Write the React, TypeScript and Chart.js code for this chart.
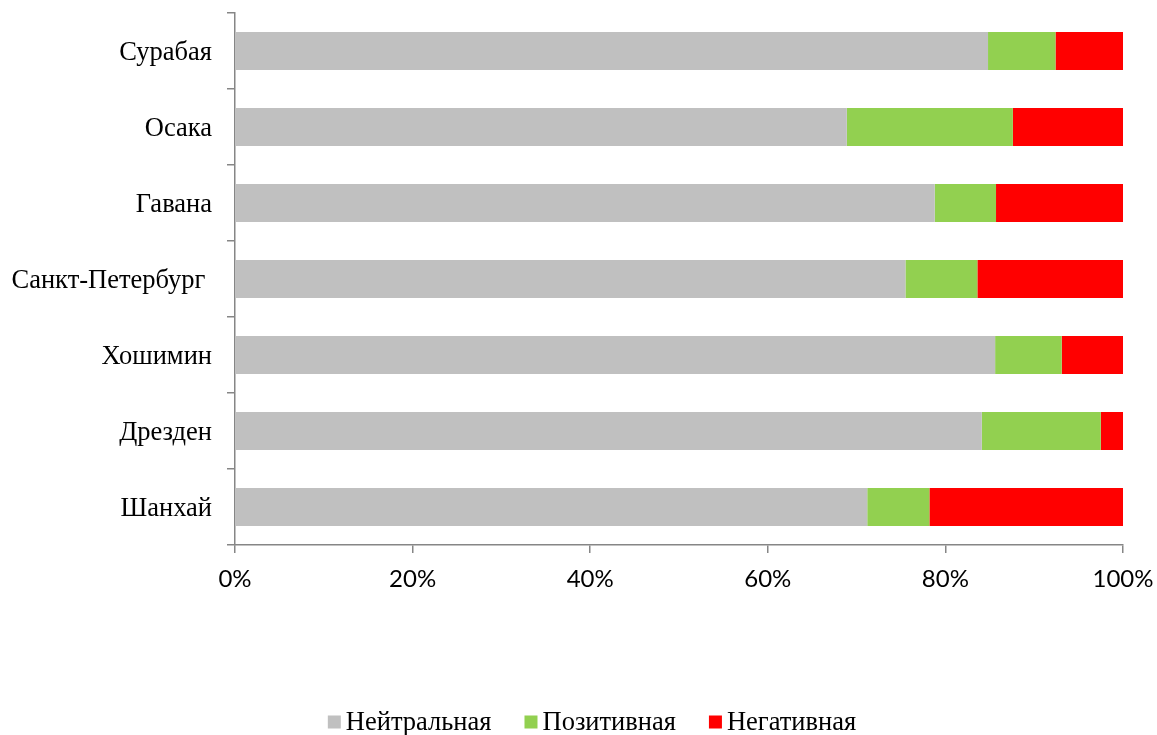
import React, { useEffect, useRef } from "react";
import { Chart, registerables } from "chart.js";

Chart.register(...registerables);

const categories = ["Сурабая", "Осака", "Гавана", "Санкт-Петербург ", "Хошимин", "Дрезден", "Шанхай"];
const seriesNames = ["Нейтральная", "Позитивная", "Негативная"];
const neutral = [84.8, 68.9, 78.8, 75.5, 85.6, 84.1, 71.2];
const positive = [7.6, 18.7, 6.9, 8.1, 7.5, 13.4, 7.0];
const negative = [7.6, 12.4, 14.3, 16.4, 6.9, 2.5, 21.8];
const xTicks = [0, 20, 40, 60, 80, 100];
const colors = ["#C0C0C0", "#92D050", "#FF0000"];

const AXIS = "#868686";
const SERIF = "'Liberation Serif', 'Times New Roman', serif";

const legendPlugin = {
  id: "customLegend",
  afterDraw(chart: any) {
    const ctx = chart.ctx;
    const ds = chart.data.datasets;
    ctx.save();
    ctx.font = `26.5px ${SERIF}`;
    ctx.textBaseline = "middle";
    ctx.textAlign = "left";
    const box = 13;
    const gap = 5;
    const spacing = 33;
    const widths = ds.map((d: any) => box + gap + ctx.measureText(d.label).width);
    const total = widths.reduce((a: number, b: number) => a + b, 0) + spacing * (ds.length - 1);
    let x = 592 - total / 2;
    const y = 722;
    ds.forEach((d: any, i: number) => {
      ctx.fillStyle = d.backgroundColor;
      ctx.fillRect(x, y - box / 2, box, box);
      ctx.fillStyle = "#000";
      ctx.fillText(d.label, x + box + gap, y + 1);
      x += widths[i] + spacing;
    });
    ctx.restore();
  },
};

export default function App() {
  const ref = useRef<HTMLCanvasElement>(null);
  useEffect(() => {
    if (!ref.current) return;
    const data = [neutral, positive, negative];
    const chart = new Chart(ref.current, {
      type: "bar",
      data: {
        labels: categories,
        datasets: seriesNames.map((name, i) => ({
          label: name,
          data: data[i],
          backgroundColor: colors[i],
          borderWidth: 0,
          barPercentage: 0.5,
          categoryPercentage: 1.0,
        })),
      },
      options: {
        indexAxis: "y",
        animation: false,
        responsive: true,
        maintainAspectRatio: false,
        layout: { padding: { top: 13, right: 34, bottom: 0, left: 0 } },
        plugins: { legend: { display: false }, tooltip: { enabled: false } },
        scales: {
          x: {
            stacked: true,
            min: 0,
            max: 100,
            afterBuildTicks: (s: any) => {
              s.ticks = xTicks.map((v) => ({ value: v }));
            },
            afterFit: (s: any) => {
              s.height = 190;
              s.paddingLeft = 0;
              s.paddingRight = 0;
            },
            ticks: {
              callback: (v: any) => v + "%",
              font: { family: "Lato, 'Open Sans', sans-serif", size: 24 },
              color: "#000",
              padding: 12,
            },
            grid: { drawOnChartArea: false, drawTicks: true, tickLength: 8, color: AXIS, lineWidth: 1.5 },
            border: { color: AXIS, width: 1.5 },
          },
          y: {
            stacked: true,
            afterFit: (s: any) => {
              s.width = 235;
              s.paddingTop = 0;
              s.paddingBottom = 0;
            },
            ticks: {
              font: { family: SERIF, size: 26.5 },
              color: "#000",
              padding: 15,
              labelOffset: 2,
            },
            grid: { drawOnChartArea: false, drawTicks: true, tickLength: 8, color: AXIS, lineWidth: 1.5, offset: true },
            border: { color: AXIS, width: 1.5 },
          },
        },
      },
      plugins: [legendPlugin],
    });
    return () => chart.destroy();
  }, []);
  return (
    <div style={{ position: "absolute", left: 0, top: 0, width: 1157, height: 735, background: "#fff" }}>
      <canvas ref={ref} />
    </div>
  );
}
